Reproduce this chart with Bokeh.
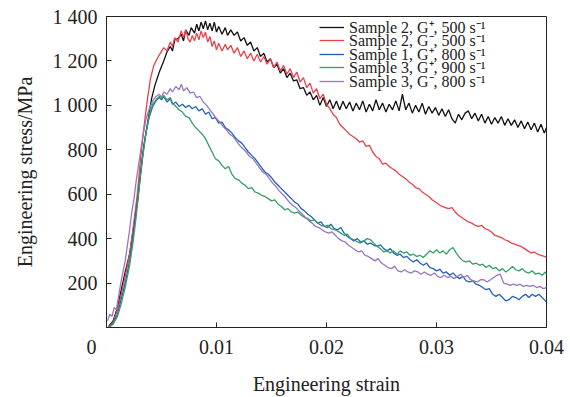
from bokeh.plotting import figure
from bokeh.models import Legend, LegendItem, FixedTicker, Range1d
from bokeh.embed import file_html
from bokeh.resources import INLINE

# ---------------- data (strain, stress MPa) ----------------
sample2_gplus_500 = [
    (0.0002, 5), (0.0006, 30), (0.001, 90), (0.0013, 160), (0.0017, 250), (0.0021, 330),
    (0.0024, 430), (0.0028, 560), (0.0031, 700), (0.0034, 820), (0.0038, 940), (0.0041, 1030),
    (0.0044, 1090), (0.0048, 1150), (0.0052, 1200), (0.0055, 1240), (0.0058, 1265), (0.006, 1245),
    (0.0062, 1295), (0.0065, 1300), (0.0068, 1320), (0.007, 1290), (0.0072, 1340), (0.0075, 1315),
    (0.0077, 1350), (0.008, 1325), (0.0082, 1365), (0.0084, 1335), (0.0086, 1375), (0.0088, 1345),
    (0.009, 1380), (0.0092, 1340), (0.0094, 1370), (0.0096, 1335), (0.0098, 1375), (0.01, 1330),
    (0.0102, 1355), (0.0105, 1320), (0.0108, 1350), (0.011, 1315), (0.0113, 1340), (0.0116, 1315),
    (0.0119, 1330), (0.0122, 1290), (0.0125, 1305), (0.0128, 1270), (0.0131, 1285), (0.0134, 1245),
    (0.0137, 1260), (0.014, 1220), (0.0143, 1235), (0.0146, 1195), (0.0149, 1210), (0.0152, 1170),
    (0.0155, 1185), (0.0158, 1145), (0.0161, 1165), (0.0164, 1125), (0.0167, 1145), (0.017, 1110),
    (0.0173, 1115), (0.0176, 1075), (0.0179, 1080), (0.0182, 1045), (0.0185, 1060), (0.0188, 1025),
    (0.0191, 1045), (0.0194, 1000), (0.0197, 1035), (0.02, 995), (0.0203, 1025), (0.0206, 985),
    (0.0209, 1020), (0.0212, 980), (0.0215, 1018), (0.0218, 985), (0.0221, 1015), (0.0224, 975),
    (0.0227, 1010), (0.023, 980), (0.0233, 1020), (0.0236, 970), (0.0239, 1005), (0.0242, 975),
    (0.0245, 1025), (0.0248, 980), (0.0251, 1010), (0.0254, 970), (0.0257, 1005), (0.026, 980),
    (0.0263, 1020), (0.0266, 975), (0.0269, 1050), (0.0272, 980), (0.0275, 1010), (0.0278, 965),
    (0.0281, 1000), (0.0284, 970), (0.0287, 1010), (0.029, 960), (0.0293, 995), (0.0296, 965),
    (0.0299, 990), (0.0302, 955), (0.0305, 985), (0.0308, 950), (0.0311, 980), (0.0314, 940),
    (0.0317, 920), (0.032, 960), (0.0323, 935), (0.0326, 965), (0.0329, 975), (0.0332, 940),
    (0.0335, 965), (0.0338, 930), (0.0341, 960), (0.0344, 920), (0.0347, 950), (0.035, 915),
    (0.0353, 945), (0.0356, 920), (0.0359, 950), (0.0362, 910), (0.0365, 940), (0.0368, 910),
    (0.0371, 935), (0.0374, 900), (0.0377, 930), (0.038, 895), (0.0383, 925), (0.0386, 890),
    (0.0389, 920), (0.0392, 880), (0.0395, 915), (0.0398, 875), (0.04, 900),
]

sample2_gminus_500 = [
    (0.0002, 0), (0.0006, 25), (0.001, 80), (0.0013, 140), (0.0017, 230), (0.0021, 330),
    (0.0024, 440), (0.0028, 600), (0.0031, 760), (0.0034, 900), (0.0037, 1020), (0.004, 1120),
    (0.0043, 1180), (0.0046, 1210), (0.0049, 1235), (0.0052, 1260), (0.0055, 1245), (0.0058, 1285),
    (0.006, 1265), (0.0062, 1305), (0.0065, 1285), (0.0068, 1335), (0.007, 1305), (0.0072, 1340),
    (0.0074, 1300), (0.0076, 1285), (0.0078, 1315), (0.008, 1290), (0.0082, 1325), (0.0084, 1295),
    (0.0086, 1335), (0.0088, 1305), (0.009, 1330), (0.0092, 1285), (0.0094, 1310), (0.0096, 1265),
    (0.0098, 1290), (0.01, 1250), (0.0102, 1280), (0.0105, 1245), (0.0108, 1275), (0.011, 1250),
    (0.0113, 1270), (0.0116, 1235), (0.0119, 1260), (0.0122, 1220), (0.0125, 1245), (0.0128, 1210),
    (0.0131, 1235), (0.0134, 1200), (0.0137, 1230), (0.014, 1195), (0.0143, 1220), (0.0146, 1185),
    (0.0149, 1210), (0.0152, 1170), (0.0155, 1195), (0.0158, 1155), (0.0161, 1180), (0.0164, 1140),
    (0.0167, 1165), (0.017, 1125), (0.0173, 1150), (0.0176, 1105), (0.0179, 1125), (0.0182, 1080),
    (0.0185, 1100), (0.0188, 1055), (0.0191, 1075), (0.0194, 1030), (0.0197, 1050), (0.02, 1005),
    (0.0203, 985), (0.0206, 960), (0.0209, 945), (0.0212, 915), (0.0215, 900), (0.0218, 885),
    (0.0221, 870), (0.0224, 860), (0.0227, 850), (0.023, 835), (0.0233, 840), (0.0236, 815),
    (0.0239, 820), (0.0242, 790), (0.0245, 770), (0.0248, 760), (0.0251, 735), (0.0254, 740),
    (0.0257, 725), (0.026, 715), (0.0263, 705), (0.0266, 690), (0.0269, 680), (0.0272, 670),
    (0.0275, 655), (0.0278, 645), (0.0281, 630), (0.0284, 625), (0.0287, 610), (0.029, 600),
    (0.0293, 590), (0.0296, 575), (0.0299, 565), (0.0302, 555), (0.0305, 545), (0.0308, 540),
    (0.0311, 535), (0.0314, 540), (0.0317, 520), (0.032, 505), (0.0323, 495), (0.0326, 485),
    (0.0329, 475), (0.0332, 470), (0.0335, 460), (0.0338, 455), (0.0341, 460), (0.0344, 445),
    (0.0347, 440), (0.035, 430), (0.0353, 415), (0.0356, 410), (0.0359, 405), (0.0362, 395),
    (0.0365, 390), (0.0368, 380), (0.0371, 375), (0.0374, 370), (0.0377, 365), (0.038, 355),
    (0.0383, 345), (0.0386, 335), (0.0389, 340), (0.0392, 330), (0.0395, 325), (0.0398, 320),
    (0.04, 315),
]

sample1_gplus_800 = [
    (0.0002, 0), (0.0006, 20), (0.001, 60), (0.0013, 120), (0.0017, 200), (0.0021, 300),
    (0.0024, 400), (0.0027, 520), (0.003, 650), (0.0033, 780), (0.0036, 880), (0.0039, 950),
    (0.0042, 995), (0.0045, 1020), (0.0048, 1035), (0.005, 1025), (0.0052, 1040), (0.0055, 1015),
    (0.0058, 1030), (0.006, 1005), (0.0063, 1015), (0.0066, 995), (0.0069, 1005), (0.0072, 990),
    (0.0075, 1000), (0.0078, 985), (0.0081, 995), (0.0084, 975), (0.0087, 985), (0.009, 960),
    (0.0093, 970), (0.0096, 940), (0.0099, 945), (0.0102, 920), (0.0105, 925), (0.0108, 900),
    (0.0111, 890), (0.0114, 875), (0.0117, 855), (0.012, 840), (0.0123, 830), (0.0126, 810),
    (0.0129, 790), (0.0132, 775), (0.0135, 760), (0.0138, 740), (0.0141, 720), (0.0144, 700),
    (0.0147, 690), (0.015, 675), (0.0153, 655), (0.0156, 640), (0.0159, 625), (0.0162, 610),
    (0.0165, 595), (0.0168, 580), (0.0171, 565), (0.0174, 555), (0.0177, 535), (0.018, 525),
    (0.0183, 510), (0.0186, 500), (0.0189, 485), (0.0192, 470), (0.0195, 475), (0.0198, 455),
    (0.0201, 450), (0.0204, 465), (0.0207, 445), (0.021, 440), (0.0213, 450), (0.0216, 425),
    (0.0219, 410), (0.0222, 400), (0.0225, 390), (0.0228, 400), (0.0231, 385), (0.0234, 390),
    (0.0237, 375), (0.024, 380), (0.0243, 370), (0.0246, 365), (0.0249, 372), (0.0252, 355),
    (0.0255, 345), (0.0258, 355), (0.0261, 335), (0.0264, 325), (0.0267, 330), (0.027, 315),
    (0.0273, 320), (0.0276, 305), (0.0279, 295), (0.0282, 305), (0.0285, 290), (0.0288, 280),
    (0.0291, 290), (0.0294, 270), (0.0297, 265), (0.03, 255), (0.0303, 262), (0.0306, 245),
    (0.0309, 250), (0.0312, 235), (0.0315, 245), (0.0318, 230), (0.0321, 220), (0.0324, 230),
    (0.0327, 210), (0.033, 205), (0.0333, 210), (0.0336, 195), (0.0339, 190), (0.0342, 180),
    (0.0345, 170), (0.0348, 175), (0.0351, 150), (0.0354, 140), (0.0357, 150), (0.036, 135),
    (0.0363, 120), (0.0366, 125), (0.0369, 140), (0.0372, 135), (0.0375, 125), (0.0378, 140),
    (0.0381, 150), (0.0384, 135), (0.0387, 150), (0.039, 140), (0.0393, 150), (0.0396, 135),
    (0.0399, 120), (0.04, 115),
]

sample3_gplus_900 = [
    (0.0002, 0), (0.0006, 15), (0.001, 50), (0.0013, 100), (0.0017, 180), (0.0021, 280),
    (0.0024, 380), (0.0027, 500), (0.003, 640), (0.0033, 770), (0.0036, 880), (0.0039, 960),
    (0.0042, 1005), (0.0045, 1025), (0.0048, 1040), (0.005, 1030), (0.0052, 1045), (0.0055, 1025),
    (0.0058, 1035), (0.006, 1010), (0.0063, 995), (0.0066, 980), (0.0069, 970), (0.0072, 950),
    (0.0075, 945), (0.0078, 920), (0.0081, 900), (0.0084, 885), (0.0087, 870), (0.009, 850),
    (0.0093, 820), (0.0096, 790), (0.0099, 760), (0.0102, 750), (0.0105, 730), (0.0108, 715),
    (0.0111, 725), (0.0114, 690), (0.0117, 670), (0.012, 665), (0.0123, 650), (0.0126, 640),
    (0.0129, 625), (0.0132, 630), (0.0135, 610), (0.0138, 605), (0.0141, 595), (0.0144, 590),
    (0.0147, 580), (0.015, 570), (0.0153, 575), (0.0156, 555), (0.0159, 545), (0.0162, 530),
    (0.0165, 535), (0.0168, 520), (0.0171, 515), (0.0174, 520), (0.0177, 505), (0.018, 495),
    (0.0183, 490), (0.0186, 480), (0.0189, 485), (0.0192, 470), (0.0195, 460), (0.0198, 455),
    (0.0201, 460), (0.0204, 445), (0.0207, 440), (0.021, 435), (0.0213, 425), (0.0216, 415),
    (0.0219, 420), (0.0222, 400), (0.0225, 395), (0.0228, 385), (0.0231, 380), (0.0234, 390),
    (0.0237, 400), (0.024, 395), (0.0243, 380), (0.0246, 365), (0.0249, 355), (0.0252, 340),
    (0.0255, 345), (0.0258, 335), (0.0261, 345), (0.0264, 330), (0.0267, 345), (0.027, 335),
    (0.0273, 340), (0.0276, 325), (0.0279, 330), (0.0282, 320), (0.0285, 325), (0.0288, 315),
    (0.0291, 330), (0.0294, 345), (0.0297, 335), (0.03, 350), (0.0303, 335), (0.0306, 345),
    (0.0309, 330), (0.0312, 350), (0.0315, 360), (0.0318, 335), (0.0321, 315), (0.0324, 300),
    (0.0327, 295), (0.033, 300), (0.0333, 285), (0.0336, 290), (0.0339, 280), (0.0342, 285),
    (0.0345, 270), (0.0348, 280), (0.0351, 265), (0.0354, 270), (0.0357, 255), (0.036, 265),
    (0.0363, 250), (0.0366, 260), (0.0369, 275), (0.0372, 260), (0.0375, 255), (0.0378, 265),
    (0.0381, 250), (0.0384, 245), (0.0387, 255), (0.039, 240), (0.0393, 245), (0.0396, 235),
    (0.0399, 250), (0.04, 240),
]

sample3_gminus_800 = [
    (0.0001, 30), (0.0003, 60), (0.0005, 50), (0.0007, 90), (0.0009, 80), (0.0011, 140),
    (0.0013, 200), (0.0015, 250), (0.0017, 300), (0.0019, 370), (0.0021, 440), (0.0023, 520),
    (0.0025, 580), (0.0027, 660), (0.003, 760), (0.0033, 860), (0.0036, 940), (0.0039, 985),
    (0.0042, 1020), (0.0045, 1040), (0.0048, 1050), (0.005, 1035), (0.0052, 1060), (0.0055, 1050),
    (0.0058, 1075), (0.006, 1060), (0.0063, 1085), (0.0066, 1070), (0.0068, 1095), (0.007, 1065),
    (0.0073, 1080), (0.0076, 1055), (0.0079, 1060), (0.0082, 1035), (0.0085, 1040), (0.0088, 1015),
    (0.0091, 1000), (0.0094, 980), (0.0097, 960), (0.01, 940), (0.0103, 925), (0.0106, 905),
    (0.0109, 890), (0.0112, 870), (0.0115, 860), (0.0118, 840), (0.0121, 820), (0.0124, 805),
    (0.0127, 790), (0.013, 770), (0.0133, 760), (0.0136, 740), (0.0139, 720), (0.0142, 700),
    (0.0145, 690), (0.0148, 670), (0.0151, 650), (0.0154, 635), (0.0157, 615), (0.016, 600),
    (0.0163, 585), (0.0166, 565), (0.0169, 550), (0.0172, 540), (0.0175, 525), (0.0178, 510),
    (0.0181, 495), (0.0184, 480), (0.0187, 470), (0.019, 455), (0.0193, 450), (0.0196, 440),
    (0.0199, 430), (0.0202, 425), (0.0205, 430), (0.0208, 415), (0.0211, 400), (0.0214, 390),
    (0.0217, 385), (0.022, 370), (0.0223, 360), (0.0226, 350), (0.0229, 340), (0.0232, 345),
    (0.0235, 325), (0.0238, 320), (0.0241, 310), (0.0244, 300), (0.0247, 310), (0.025, 290),
    (0.0253, 280), (0.0256, 270), (0.0259, 265), (0.0262, 275), (0.0265, 255), (0.0268, 250),
    (0.0271, 260), (0.0274, 250), (0.0277, 245), (0.028, 255), (0.0283, 250), (0.0286, 240),
    (0.0289, 250), (0.0292, 240), (0.0295, 235), (0.0298, 245), (0.0301, 230), (0.0304, 225),
    (0.0307, 235), (0.031, 225), (0.0313, 230), (0.0316, 220), (0.0319, 230), (0.0322, 240),
    (0.0325, 225), (0.0328, 235), (0.0331, 215), (0.0334, 210), (0.0337, 205), (0.034, 215),
    (0.0343, 215), (0.0346, 205), (0.0349, 215), (0.0352, 225), (0.0355, 235), (0.0358, 240),
    (0.0361, 200), (0.0364, 195), (0.0367, 190), (0.037, 195), (0.0373, 190), (0.0376, 195),
    (0.0379, 185), (0.0382, 190), (0.0385, 185), (0.0388, 190), (0.0391, 180), (0.0394, 185),
    (0.0397, 175), (0.04, 180),
]

series_labels = [
    "Sample 2, G\u207a, 500 s\u207b\u00b9",
    "Sample 2, G\u207b, 500 s\u207b\u00b9",
    "Sample 1, G\u207a, 800 s\u207b\u00b9",
    "Sample 3, G\u207a, 900 s\u207b\u00b9",
    "Sample 3, G\u207b, 800 s\u207b\u00b9",
]
series_data = [sample2_gplus_500, sample2_gminus_500, sample1_gplus_800,
               sample3_gplus_900, sample3_gminus_800]
series_colors = ["#111111", "#e8424a", "#2462b8", "#34a065", "#9578c2"]

x_ticks = [0, 0.01, 0.02, 0.03, 0.04]
x_tick_labels = {0: "0" + "\u00a0" * 6, 0.01: "0.01", 0.02: "0.02", 0.03: "0.03", 0.04: "0.04"}
y_ticks = [200, 400, 600, 800, 1000, 1200, 1400]
y_tick_labels = {200: "200", 400: "400", 600: "600", 800: "800",
                 1000: "1 000", 1200: "1 200", 1400: "1 400"}

FONT = "Liberation Serif"

p = figure(width=570, height=397, output_backend="svg", toolbar_location=None,
           x_range=Range1d(0, 0.04), y_range=Range1d(0, 1400))
p.min_border_left = 106
p.min_border_right = 24
p.min_border_top = 16
p.min_border_bottom = 63
p.background_fill_color = "white"
p.border_fill_color = "white"
p.outline_line_color = "#222222"
p.outline_line_width = 1
p.xgrid.visible = False
p.ygrid.visible = False

renderers = []
for data, color in zip(series_data, series_colors):
    xs = [d[0] for d in data]
    ys = [d[1] for d in data]
    r = p.line(xs, ys, line_color=color, line_width=1.3)
    renderers.append(r)

for ax in (p.xaxis[0], p.yaxis[0]):
    ax.major_tick_in = 5
    ax.major_tick_out = 0
    ax.minor_tick_in = 0
    ax.minor_tick_out = 0
    ax.axis_line_color = "#222222"
    ax.major_tick_line_color = "#222222"
    ax.major_label_text_font = FONT
    ax.major_label_text_font_size = "20px"
    ax.major_label_text_color = "#222222"
    ax.axis_label_text_font = FONT
    ax.axis_label_text_font_size = "20px"
    ax.axis_label_text_font_style = "normal"
    ax.axis_label_text_color = "#222222"

p.xaxis[0].ticker = FixedTicker(ticks=x_ticks)
p.xaxis[0].major_label_overrides = x_tick_labels
p.xaxis[0].axis_label = "Engineering strain"
p.xaxis[0].major_label_standoff = 8
p.xaxis[0].axis_label_standoff = 12

p.yaxis[0].ticker = FixedTicker(ticks=y_ticks)
p.yaxis[0].major_label_overrides = y_tick_labels
p.yaxis[0].axis_label = "Engineering stress/MPa"
p.yaxis[0].major_label_standoff = 9
p.yaxis[0].axis_label_standoff = 14

# one legend box per entry so the rows can be packed tightly like the original
row_y = [289, 276, 262, 249, 235]
for lab, r, yy in zip(series_labels, renderers, row_y):
    lg = Legend(items=[LegendItem(label=lab, renderers=[r])], location=(213, yy))
    lg.background_fill_alpha = 0
    lg.border_line_alpha = 0
    lg.padding = 0
    lg.margin = 0
    lg.spacing = 0
    lg.glyph_width = 25
    lg.glyph_height = 10
    lg.label_height = 10
    lg.label_standoff = 5
    lg.label_text_font = FONT
    lg.label_text_font_size = "16px"
    lg.label_text_color = "#222222"
    p.add_layout(lg)

open("out.html", "w").write(file_html(p, INLINE))
